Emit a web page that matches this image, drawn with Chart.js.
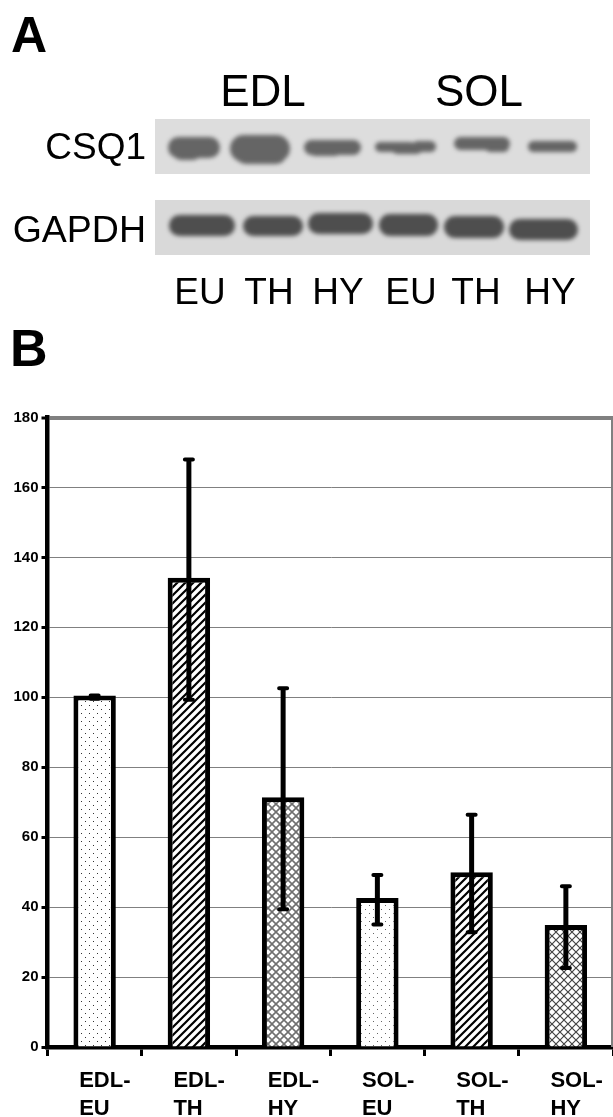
<!DOCTYPE html>
<html>
<head>
<meta charset="utf-8">
<style>
  html, body { margin: 0; padding: 0; background: #fff; }
  #wrap { position: relative; width: 613px; height: 1117px; overflow: hidden; font-family: "Liberation Sans", Arial, sans-serif; color: #000; }
  canvas { position: absolute; left: 0; top: 0; }
  .t { position: absolute; white-space: nowrap; line-height: 1; }
  .panel { font-weight: bold; }
</style>
<script src="https://cdn.jsdelivr.net/npm/chart.js@4"></script>
</head>
<body>
<div id="wrap">
  <canvas id="csqChart" width="613" height="1117"></canvas>
</div>
<script>
const categories = [['EDL-', 'EU'], ['EDL-', 'TH'], ['EDL-', 'HY'], ['SOL-', 'EU'], ['SOL-', 'TH'], ['SOL-', 'HY']];
const means = [100.5, 134.2, 71.4, 42.6, 50, 34.9];
const errHigh = [100.5, 168, 102.6, 49.2, 66.4, 46];
const errLow = [99.6, 99.3, 39.4, 35, 32.8, 22.6];
const yTicks = [0, 20, 40, 60, 80, 100, 120, 140, 160, 180];

const laneLabels = ['EU', 'TH', 'HY', 'EU', 'TH', 'HY'];

// blot drawing, panel A. x, y, w, h of each smeared band, extra pieces make the lumps
const csqBands = [
  [168, 137, 52, 21], [172, 142, 30, 18],
  [230, 135, 60, 27], [236, 145, 50, 19],
  [304, 140, 57, 15], [310, 145, 30, 11],
  [375, 142, 40, 10], [392, 144, 30, 10], [412, 141, 24, 11],
  [454, 137, 56, 13], [485, 141, 24, 11],
  [528, 141, 49, 11],
];
const gapdhBands = [[169, 215, 66, 21], [243, 216, 60, 20], [308, 213, 65, 21], [379, 214, 59, 22], [444, 216, 60, 22], [509, 219, 69, 21]];

const wrap = document.getElementById('wrap');
function addText(text, x, y, size, anchor, cls) {
  const d = document.createElement('div');
  d.className = 't ' + (cls || '');
  d.textContent = text;
  d.style.fontSize = size + 'px';
  d.style.top = y + 'px';
  if (anchor === 'right') d.style.right = (613 - x) + 'px';
  else if (anchor === 'center') { d.style.left = x + 'px'; d.style.transform = 'translateX(-50%)'; }
  else d.style.left = x + 'px';
  wrap.appendChild(d);
}
addText('A', 11, 10, 50, 'left', 'panel');
addText('B', 10, 322, 52, 'left', 'panel');
addText('EDL', 263, 69, 44, 'center');
addText('SOL', 479, 69, 44, 'center');
addText('CSQ1', 146, 128, 37, 'right');
addText('GAPDH', 146, 211, 37.5, 'right');
[200, 269, 338, 411, 476, 550].forEach((x, i) => addText(laneLabels[i], x, 273, 37, 'center'));

// fill patterns of the bars
function makeTile(size, draw) {
  const c = document.createElement('canvas');
  c.width = size;
  c.height = size;
  const g = c.getContext('2d');
  g.fillStyle = '#fff';
  g.fillRect(0, 0, size, size);
  draw(g, size);
  return g.createPattern(c, 'repeat');
}
function dots(color) {
  return makeTile(8, (g) => {
    g.fillStyle = color;
    g.fillRect(1, 1, 1, 1);
    g.fillRect(5, 5, 1, 1);
  });
}
function hatch(color, width) {
  return makeTile(8, (g, s) => {
    g.strokeStyle = color;
    g.lineWidth = width;
    g.beginPath();
    g.moveTo(-1, 1); g.lineTo(1, -1);
    g.moveTo(0, s); g.lineTo(s, 0);
    g.moveTo(s - 1, s + 1); g.lineTo(s + 1, s - 1);
    g.stroke();
  });
}
function cross(color, width) {
  return makeTile(8, (g, s) => {
    g.strokeStyle = color;
    g.lineWidth = width;
    g.beginPath();
    g.moveTo(0, s); g.lineTo(s, 0);
    g.moveTo(0, 0); g.lineTo(s, s);
    g.stroke();
  });
}
const barFills = [dots('#333'), hatch('#000', 2.2), cross('#707070', 1.6), dots('#666'), hatch('#000', 2.2), cross('#444', 1.2)];

function drawBlot(ctx, y, h, bg, bands, color, blur) {
  ctx.save();
  ctx.fillStyle = bg;
  ctx.fillRect(155, y, 435, h);
  ctx.beginPath();
  ctx.rect(155, y, 435, h);
  ctx.clip();
  ctx.filter = 'blur(' + blur + 'px)';
  ctx.fillStyle = color;
  ctx.beginPath();
  bands.forEach((b) => {
    ctx.roundRect(b[0], b[1], b[2], b[3], b[3] / 2);
  });
  ctx.fill();
  ctx.restore();
}

const blotPlugin = {
  id: 'blots',
  beforeDraw(chart) {
    const ctx = chart.ctx;
    drawBlot(ctx, 119, 55, '#dddddd', csqBands, '#656565', 2.2);
    drawBlot(ctx, 200, 55, '#d9d9d9', gapdhBands, '#4e4e4e', 2);
  },
};

const frameAndErrors = {
  id: 'frameAndErrors',
  afterDatasetsDraw(chart) {
    const ctx = chart.ctx;
    const xs = chart.scales.x;
    const ys = chart.scales.y;
    const area = chart.chartArea;
    ctx.save();
    ctx.strokeStyle = '#808080';
    ctx.lineWidth = 2;
    ctx.beginPath();
    ctx.moveTo(612, area.top);
    ctx.lineTo(612, area.bottom);
    ctx.stroke();

    ctx.strokeStyle = '#000';
    means.forEach((m, i) => {
      const x = xs.getPixelForValue(i);
      const hi = ys.getPixelForValue(errHigh[i]);
      const lo = ys.getPixelForValue(errLow[i]);
      ctx.lineWidth = 5;
      ctx.lineCap = 'butt';
      ctx.beginPath();
      ctx.moveTo(x, hi);
      ctx.lineTo(x, lo);
      ctx.stroke();
      ctx.lineCap = 'round';
      ctx.lineWidth = 4;
      ctx.beginPath();
      ctx.moveTo(x - 4, hi);
      ctx.lineTo(x + 4, hi);
      ctx.moveTo(x - 4, lo);
      ctx.lineTo(x + 4, lo);
      ctx.stroke();
    });
    ctx.restore();
  },
};

new Chart(document.getElementById('csqChart'), {
  type: 'bar',
  data: {
    labels: categories,
    datasets: [
      {
        data: means,
        backgroundColor: barFills,
        borderColor: '#000',
        borderWidth: 5,
        borderSkipped: 'bottom',
        barPercentage: 0.45,
        categoryPercentage: 1,
      },
    ],
  },
  plugins: [blotPlugin, frameAndErrors],
  options: {
    responsive: false,
    animation: false,
    devicePixelRatio: 1,
    layout: { padding: { top: 417.5, left: 0, right: 0, bottom: 0 } },
    plugins: { legend: { display: false }, tooltip: { enabled: false } },
    scales: {
      x: {
        afterFit: (s) => { s.height = 70; s.paddingLeft = 0; s.paddingRight = 0; },
        border: { color: '#000', width: 4.5 },
        grid: { drawOnChartArea: false, tickLength: 9, tickWidth: 3, tickColor: '#000' },
        ticks: {
          color: '#000',
          align: 'start',
          labelOffset: -15.5,
          padding: 11,
          autoSkip: false,
          maxRotation: 0,
          font: { family: "'Liberation Sans', Arial, sans-serif", size: 22, weight: 'bold', lineHeight: 1.27 },
        },
      },
      y: {
        min: 0,
        max: 180,
        afterFit: (s) => { s.width = 47.5; s.paddingTop = 0; s.paddingBottom = 0; },
        afterBuildTicks: (s) => { s.ticks = yTicks.map((v) => ({ value: v })); },
        border: { color: '#000', width: 4.5 },
        grid: {
          color: '#808080',
          lineWidth: (c) => (c.tick && c.tick.value === 180 ? 4 : 1),
          tickLength: 6,
          tickWidth: 3,
          tickColor: '#000',
        },
        ticks: {
          color: '#000',
          padding: 3,
          font: { family: "'Liberation Sans', Arial, sans-serif", size: 15, weight: 'bold' },
        },
      },
    },
  },
});
</script>
</body>
</html>
